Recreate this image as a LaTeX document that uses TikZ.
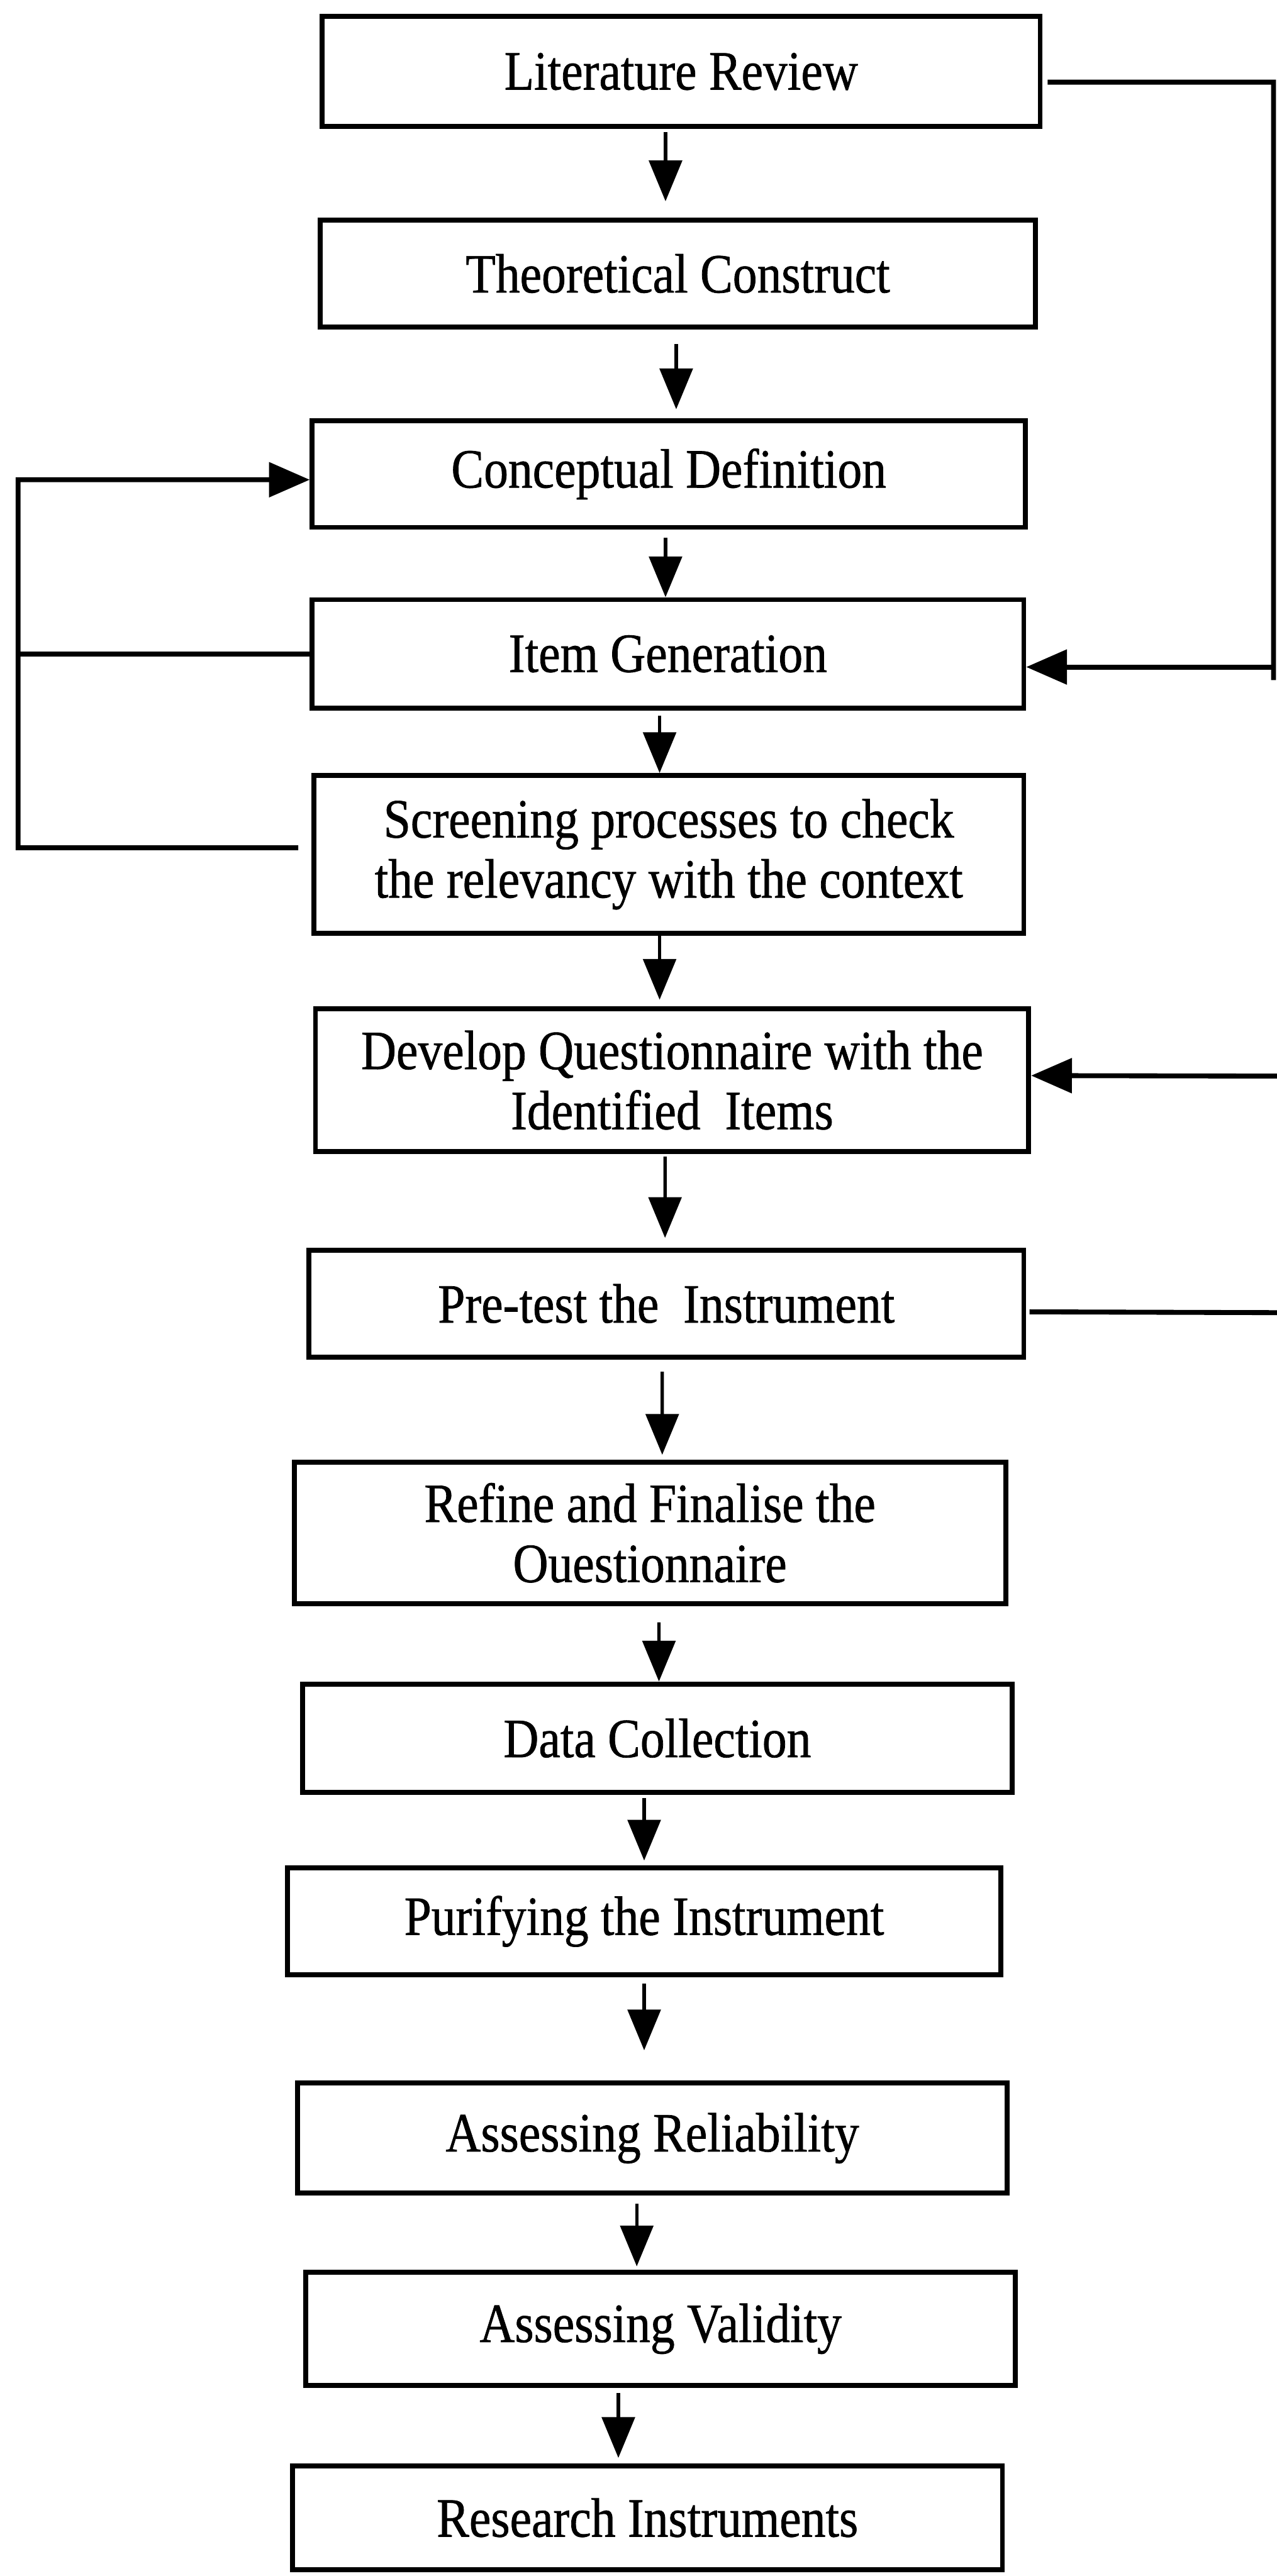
\documentclass[tikz,border=0pt]{standalone}
\usepackage{fontspec}
\setmainfont{Liberation Serif}[FakeStretch=0.88, FakeBold=0.8]
\usetikzlibrary{arrows.meta,calc}
\def\pu{0.025cm}
\begin{document}
\begin{tikzpicture}[x=0.025cm, y=-0.025cm,
  stage/.style={draw, line width=0.075cm, rectangle, align=center, inner sep=0pt,
    font=\fontsize{24}{26}\selectfont},
  flow/.style={line width=0.05cm, -{Triangle[length=0.62cm,width=0.5cm]}},
  fb/.style={line width=0.075cm},
  fbarrow/.style={fb, -{Triangle[length=0.62cm,width=0.52cm]}}]
\useasboundingbox (0,0) rectangle (777,1568);
\fill[white] (0,0) rectangle (777,1568);

% process stages, top to bottom
\node[stage, minimum width={437*\pu}, minimum height={67*\pu}] (lit) at (414.5,43.5) {Literature Review};
\node[stage, minimum width={435*\pu}, minimum height={65*\pu}] (theo) at (412.5,166.5) {Theoretical Construct};
\node[stage, minimum width={434*\pu}, minimum height={65*\pu}] (con) at (407,288.5) {Conceptual Definition};
\node[stage, minimum width={433*\pu}, minimum height={66*\pu}] (item) at (406.5,398) {Item Generation};
\node[stage, minimum width={432*\pu}, minimum height={96*\pu}] (scr) at (407,520) {Screening processes to check\\the relevancy with the context};
\node[stage, minimum width={434*\pu}, minimum height={87*\pu}] (dev) at (409,657.5) {Develop Questionnaire with the\\Identified~ Items};
\node[stage, minimum width={435*\pu}, minimum height={65*\pu}] (pre) at (405.5,793.5) {Pre-test the~ Instrument};
\node[stage, minimum width={433*\pu}, minimum height={86*\pu}] (ref) at (395.5,933) {Refine and Finalise the\\Ouestionnaire};
\node[stage, minimum width={432*\pu}, minimum height={66*\pu}] (data) at (400,1058) {Data Collection};
\node[stage, minimum width={434*\pu}, minimum height={65*\pu}] (pur) at (392,1169.5) {Purifying the Instrument};
\node[stage, minimum width={432*\pu}, minimum height={67*\pu}] (rel) at (397,1301.5) {Assessing Reliability};
\node[stage, minimum width={432*\pu}, minimum height={69*\pu}] (val) at (402,1417.5) {Assessing Validity};
\node[stage, minimum width={432*\pu}, minimum height={63*\pu}] (res) at (394,1532.5) {Research Instruments};

% main downward flow
\draw[flow] ([shift={(-9.5,2)}]lit.south) -- ([shift={(-7.5,-10)}]theo.north);
\draw[flow] ([shift={(-1,9)}]theo.south) -- ([shift={(4.5,-5.4)}]con.north);
\draw[flow] ([shift={(-2,4.7)}]con.south) -- ([shift={(-1.5,0)}]item.north);
\draw[flow] ([shift={(-5.1,3)}]item.south) -- ([shift={(-5.6,0)}]scr.north);
\draw[flow] ([shift={(-5.6,0)}]scr.south) -- ([shift={(-7.6,-4)}]dev.north);
\draw[flow] ([shift={(-4.3,1.5)}]dev.south) -- ([shift={(-0.8,-6)}]pre.north);
\draw[flow] ([shift={(-2.5,7.4)}]pre.south) -- ([shift={(7.5,-3)}]ref.north);
\draw[flow] ([shift={(5.5,10)}]ref.south) -- ([shift={(1,0)}]data.north);
\draw[flow] ([shift={(-8,2)}]data.south) -- ([shift={(0,-3)}]pur.north);
\draw[flow] ([shift={(0,4)}]pur.south) -- ([shift={(-5,-18.5)}]rel.north);
\draw[flow] ([shift={(-9.5,5)}]rel.south) -- ([shift={(-14.5,-2)}]val.north);
\draw[flow] ([shift={(-25.7,3)}]val.south) -- ([shift={(-17.7,-3.4)}]res.north);

% feedback from the literature review into item generation
\coordinate (rtop) at (775,50);
\coordinate (rjoin) at (775,406);
\coordinate (rend) at (775,414);
\draw[fb] ([shift={(3,6.5)}]lit.east) -- (rtop) -- (rend);
\draw[fbarrow] (rjoin) -- ([yshift=-8*\pu]item.east);

% screening loop back to the conceptual definition
\coordinate (ltop) at (11,292);
\coordinate (lbot) at (11,516);
\draw[fb] (item.west) -- (item.west -| lbot);
\draw[fbarrow] ([shift={(-8,-4)}]scr.west) -- (lbot) -- (ltop) -- ([yshift=-3.5*\pu]con.west);

% pre-test loop back to the questionnaire
\coordinate (redgeA) at (778,655);
\coordinate (redgeB) at (778,799);
\draw[fbarrow] (redgeA) -- ([yshift=2.8*\pu]dev.east);
\draw[fb] ([shift={(2,5)}]pre.east) -- (redgeB);
\end{tikzpicture}
\end{document}
